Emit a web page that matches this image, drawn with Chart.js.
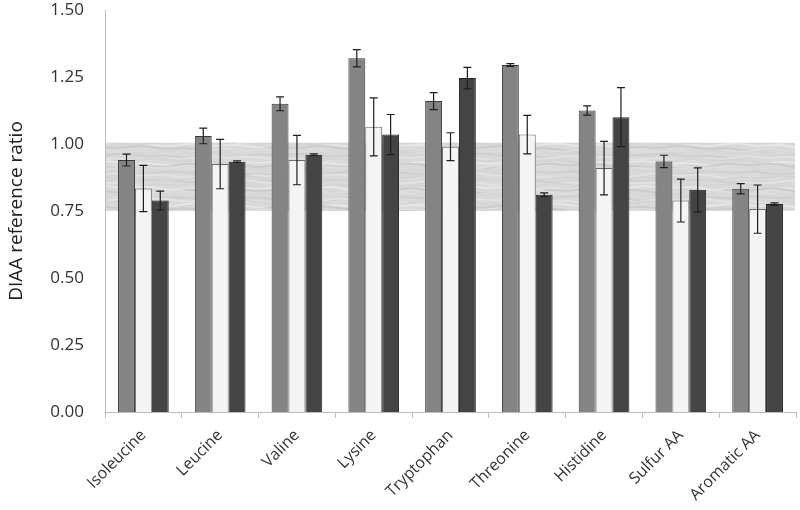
<!DOCTYPE html>
<html>
<head>
<meta charset="utf-8">
<script src="https://cdn.jsdelivr.net/npm/chart.js@4/dist/chart.umd.min.js"></script>
<style>
  html, body { margin: 0; padding: 0; background: #fff; }
  #wrap { width: 800px; height: 510px; }
</style>
</head>
<body>
<div id="wrap"><canvas id="diaaChart" width="800" height="510"></canvas></div>
<script>
/* ================= DATA ================= */
const categories = ["Isoleucine", "Leucine", "Valine", "Lysine", "Tryptophan",
  "Threonine", "Histidine", "Sulfur AA", "Aromatic AA"];

const grayValues  = [0.94, 1.03, 1.15, 1.32, 1.16, 1.295, 1.125, 0.935, 0.833];
const grayErrors  = [0.022, 0.029, 0.026, 0.032, 0.032, 0.005, 0.017, 0.023, 0.019];

const whiteValues = [0.834, 0.925, 0.94, 1.064, 0.99, 1.035, 0.91, 0.789, 0.757];
const whiteErrors = [0.086, 0.092, 0.092, 0.108, 0.052, 0.072, 0.10, 0.08, 0.09];

const darkValues  = [0.789, 0.934, 0.96, 1.035, 1.246, 0.811, 1.10, 0.829, 0.776];
const darkErrors  = [0.035, 0.003, 0.003, 0.075, 0.04, 0.007, 0.11, 0.082, 0.004];

const yTicks = [0, 0.25, 0.5, 0.75, 1.0, 1.25, 1.5];
const bandRange = [0.75, 1.005];

/* ================= BAND TEXTURE ================= */
function makeTexture(ctx) {
  const c = document.createElement("canvas");
  c.width = 180; c.height = 60;
  const g = c.getContext("2d");
  g.fillStyle = "#d9d9d9";
  g.fillRect(0, 0, c.width, c.height);
  const shades = ["#cfcfcf", "#e2e2e2", "#d4d4d4", "#e6e6e6", "#cbcbcb", "#dddddd", "#d6d6d6"];
  for (let row = 0; row < 24; row++) {
    g.strokeStyle = shades[row % shades.length];
    g.lineWidth = 2;
    g.beginPath();
    for (let x = 0; x <= c.width; x += 2) {
      const y = row * 2.5 + 1 + Math.sin((x / c.width) * Math.PI * 2 + row * 2.3) * 1.6
        + Math.sin((x / c.width) * Math.PI * 8 + row * 0.9) * 0.8;
      if (x === 0) g.moveTo(x, y); else g.lineTo(x, y);
    }
    g.stroke();
  }
  return ctx.createPattern(c, "repeat");
}

/* ================= PLUGINS ================= */
const bandPlugin = {
  id: "band",
  beforeDatasetsDraw(chart) {
    const { ctx, chartArea, scales } = chart;
    const yTop = scales.y.getPixelForValue(bandRange[1]);
    const yBot = scales.y.getPixelForValue(bandRange[0]);
    ctx.save();
    ctx.fillStyle = makeTexture(ctx);
    ctx.fillRect(chartArea.left + 1, yTop, chartArea.right - chartArea.left - 2, yBot - yTop);
    ctx.restore();
  }
};

const errorBarPlugin = {
  id: "errorBars",
  afterDatasetsDraw(chart) {
    const { ctx, scales } = chart;
    ctx.save();
    ctx.strokeStyle = "#1e1e1e";
    ctx.lineWidth = 1.2;
    chart.data.datasets.forEach((ds, i) => {
      const meta = chart.getDatasetMeta(i);
      meta.data.forEach((bar, j) => {
        const v = ds.data[j], e = ds.errors[j];
        const yHi = scales.y.getPixelForValue(v + e);
        const yLo = scales.y.getPixelForValue(v - e);
        const cap = 4;
        ctx.beginPath();
        ctx.moveTo(bar.x, yHi); ctx.lineTo(bar.x, yLo);
        ctx.moveTo(bar.x - cap, yHi); ctx.lineTo(bar.x + cap, yHi);
        ctx.moveTo(bar.x - cap, yLo); ctx.lineTo(bar.x + cap, yLo);
        ctx.stroke();
      });
    });
    ctx.restore();
  }
};

/* ================= CHART ================= */
new Chart(document.getElementById("diaaChart"), {
  type: "bar",
  data: {
    labels: categories,
    datasets: [
      { data: grayValues, errors: grayErrors, backgroundColor: "#848484",
        borderColor: "#3a3a3a", borderWidth: 1 },
      { data: whiteValues, errors: whiteErrors, backgroundColor: "#f4f4f4",
        borderColor: "#6a6a6a", borderWidth: 1 },
      { data: darkValues, errors: darkErrors, backgroundColor: "#444444",
        borderColor: "#222222", borderWidth: 1 }
    ]
  },
  options: {
    responsive: false,
    animation: false,
    categoryPercentage: 0.66,
    barPercentage: 1.0,
    layout: { padding: { top: 10, right: 4, left: 0, bottom: 0 } },
    plugins: {
      legend: { display: false },
      tooltip: { enabled: false }
    },
    scales: {
      x: {
        afterFit(axis) { axis.height = 98; },
        grid: { display: true, drawOnChartArea: false, color: "#bdbdbd", tickLength: 6, offset: true },
        border: { color: "#bdbdbd" },
        ticks: {
          color: "#333",
          font: { family: "Open Sans", size: 16 },
          minRotation: 45, maxRotation: 45, padding: 8
        }
      },
      y: {
        min: 0, max: 1.5,
        afterFit(axis) { axis.width = 105; axis.paddingTop = 0; axis.paddingBottom = 0; },
        afterBuildTicks(axis) { axis.ticks = yTicks.map(v => ({ value: v })); },
        grid: { display: false },
        border: { color: "#bdbdbd" },
        ticks: {
          color: "#333",
          font: { family: "Open Sans", size: 17 },
          padding: 13,
          callback: v => v.toFixed(2)
        },
        title: {
          display: true,
          text: "DIAA reference ratio",
          color: "#222",
          font: { family: "Open Sans", size: 19 },
          padding: { top: 5, bottom: 0 }
        }
      }
    }
  },
  plugins: [bandPlugin, errorBarPlugin]
});
</script>
</body>
</html>
